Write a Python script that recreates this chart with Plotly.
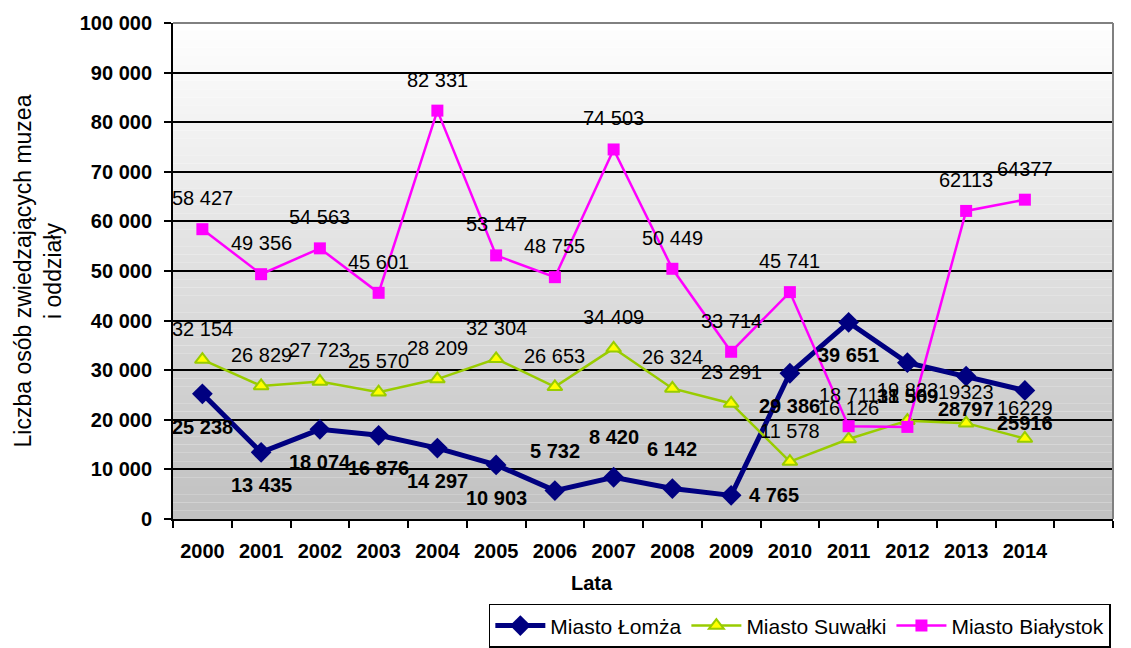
import plotly.graph_objects as go

# ---------------- data ----------------
years = ["2000", "2001", "2002", "2003", "2004", "2005", "2006", "2007",
         "2008", "2009", "2010", "2011", "2012", "2013", "2014"]

lomza = [25238, 13435, 18074, 16876, 14297, 10903, 5732, 8420,
         6142, 4765, 29386, 39651, 31509, 28797, 25916]
suwalki = [32154, 26829, 27723, 25570, 28209, 32304, 26653, 34409,
           26324, 23291, 11578, 16126, 19823, 19323, 16229]
bialystok = [58427, 49356, 54563, 45601, 82331, 53147, 48755, 74503,
             50449, 33714, 45741, 18711, 18569, 62113, 64377]

lomza_labels = ["25 238", "13 435", "18 074", "16 876", "14 297", "10 903", "5 732", "8 420",
                "6 142", "4 765", "29 386", "39 651", "31 509", "28797", "25916"]
suwalki_labels = ["32 154", "26 829", "27 723", "25 570", "28 209", "32 304", "26 653", "34 409",
                  "26 324", "23 291", "11 578", "16 126", "19 823", "19323", "16229"]
bialystok_labels = ["58 427", "49 356", "54 563", "45 601", "82 331", "53 147", "48 755", "74 503",
                    "50 449", "33 714", "45 741", "18 711", "18 569", "62113", "64377"]

y_ticks = [0, 10000, 20000, 30000, 40000, 50000, 60000, 70000, 80000, 90000, 100000]

# ---------------- styling ----------------
FONT = "Liberation Sans, Arial, sans-serif"
C_LOMZA = "#000080"
C_SUW = "#99CC00"
C_BIA = "#FF00FF"

xs = list(range(len(years)))

fig = go.Figure()

fig.add_trace(go.Scatter(
    x=xs, y=lomza, name="Miasto Łomża", mode="lines+markers",
    line=dict(color=C_LOMZA, width=5),
    marker=dict(symbol="diamond", size=16, color=C_LOMZA),
))
fig.add_trace(go.Scatter(
    x=xs, y=suwalki, name="Miasto Suwałki", mode="lines+markers",
    line=dict(color=C_SUW, width=2.5),
    marker=dict(symbol="triangle-up", size=13, color="#FFFF00",
                line=dict(color=C_SUW, width=2)),
))
fig.add_trace(go.Scatter(
    x=xs, y=bialystok, name="Miasto Białystok", mode="lines+markers",
    line=dict(color=C_BIA, width=2.5),
    marker=dict(symbol="square", size=12, color=C_BIA),
))

# ---------------- data labels ----------------
annotations = []
lomza_above = {6, 7, 8}
lomza_right = {9}
for i, (v, t) in enumerate(zip(lomza, lomza_labels)):
    a = dict(x=xs[i], y=v, xref="x", yref="y", text="<b>%s</b>" % t, showarrow=False,
             font=dict(family=FONT, size=20, color="black"))
    if i in lomza_right:
        a.update(xanchor="left", xshift=16, yshift=0)
    elif i in lomza_above:
        a.update(yshift=40)
    else:
        a.update(yshift=-33)
    annotations.append(a)
for series, labels in ((suwalki, suwalki_labels), (bialystok, bialystok_labels)):
    for i, (v, t) in enumerate(zip(series, labels)):
        annotations.append(dict(x=xs[i], y=v, xref="x", yref="y", text=t, showarrow=False,
                                yshift=31, font=dict(family=FONT, size=20, color="black")))

annotations.append(dict(x=0.446, y=-0.129, xref="paper", yref="paper", text="<b>Lata</b>",
                        showarrow=False, yanchor="middle",
                        font=dict(family=FONT, size=20, color="black")))

# ---------------- gradient background + border ----------------
shapes = []
N = 60
for k in range(N):
    g = int(round(192 + (255 - 192) * (k + 0.5) / N))
    shapes.append(dict(type="rect", xref="paper", yref="y", x0=0, x1=1,
                       y0=100000 * k / N, y1=100000 * (k + 1) / N,
                       fillcolor="rgb(%d,%d,%d)" % (g, g, g), line=dict(width=0), layer="below"))
shapes.append(dict(type="line", xref="paper", yref="paper", x0=0, x1=1, y0=1, y1=1,
                   line=dict(color="#808080", width=2), layer="above"))
shapes.append(dict(type="line", xref="paper", yref="paper", x0=1, x1=1, y0=0, y1=1,
                   line=dict(color="#808080", width=2), layer="above"))

fig.update_layout(
    width=1123, height=640,
    margin=dict(l=165, r=18, t=15, b=129, autoexpand=False),
    paper_bgcolor="white", plot_bgcolor="white",
    font=dict(family=FONT, size=20, color="black"),
    separators=", ",
    showlegend=True,
    legend=dict(orientation="h", x=0.336, y=-0.26, xanchor="left", yanchor="bottom",
                bordercolor="black", borderwidth=1.5, bgcolor="white",
                font=dict(family=FONT, size=21, color="black"),
                itemwidth=50, tracegroupgap=0),
    xaxis=dict(range=[-0.5, 15.5], tickmode="array", tickvals=xs, ticktext=years,
               automargin=False,
               ticks="outside", ticklen=13, tickcolor="rgba(0,0,0,0)",
               tickfont=dict(family=FONT, size=20, color="black", weight="bold"),
               showgrid=False, zeroline=False, showline=True, linecolor="black", linewidth=2,
               minor=dict(tick0=0.5, dtick=1, ticks="outside", ticklen=7, tickcolor="black",
                          tickwidth=2, showgrid=False)),
    yaxis=dict(range=[0, 100000], tickmode="array", tickvals=y_ticks, tickformat=",d",
               automargin=False,
               ticks="outside", ticklen=7, tickwidth=2, tickcolor="black",
               ticklabelstandoff=8,
               tickfont=dict(family=FONT, size=20, color="black", weight="bold"),
               showgrid=True, gridcolor="black", gridwidth=2, zeroline=False,
               showline=True, linecolor="black", linewidth=2,
               title=dict(text="Liczba osób zwiedzających muzea<br>i oddziały", standoff=12,
                          font=dict(family=FONT, size=23, color="black"))),
    shapes=shapes,
    annotations=annotations,
)

fig.write_html("out.html")
